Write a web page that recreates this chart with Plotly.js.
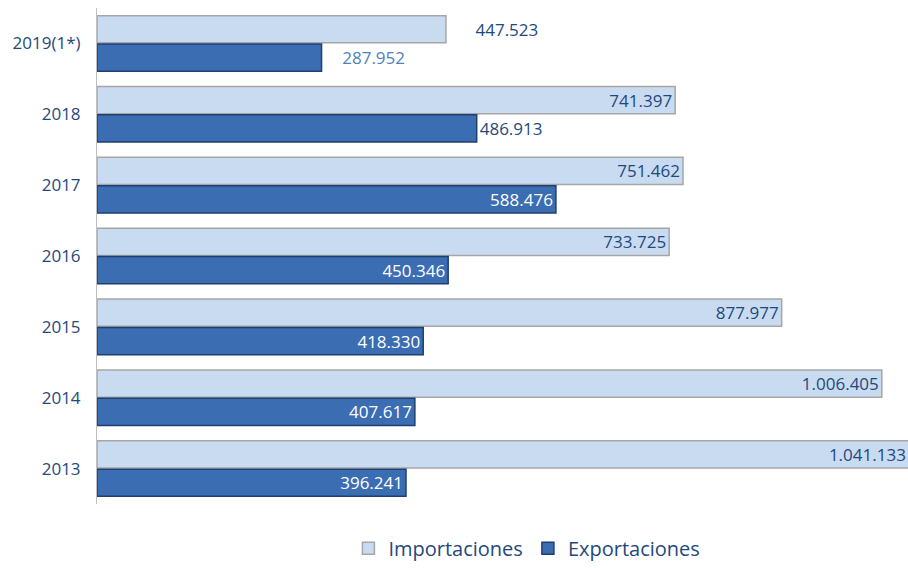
<!DOCTYPE html>
<html><head><meta charset="utf-8">
<script src="https://cdn.plot.ly/plotly-3.0.1.min.js"></script>
<style>html,body{margin:0;padding:0;background:#fff;}#c{width:908px;height:568px;}</style>
</head><body><div id="c"></div>
<script>
const categories = ["2019(1*)", "2018", "2017", "2016", "2015", "2014", "2013"];
const importaciones = [447523, 741397, 751462, 733725, 877977, 1006405, 1041133];
const exportaciones = [287952, 486913, 588476, 450346, 418330, 407617, 396241];

const impPos = ["outside", "inside", "inside", "inside", "inside", "inside", "inside"];
const expPos = ["outside", "outside", "inside", "inside", "inside", "inside", "inside"];
const expColors = ["#4f81bd", "#1f497d", "#ffffff", "#ffffff", "#ffffff", "#ffffff", "#ffffff"];
const sp = "\u00a0";
const impTpl = [sp.repeat(6) + "%{x:,.0f}", "%{x:,.0f}", "%{x:,.0f}", "%{x:,.0f}", "%{x:,.0f}", "%{x:,.0f}", "%{x:,.0f}"];
const expTpl = [sp.repeat(4) + "%{x:,.0f}", "%{x:,.0f}", "%{x:,.0f}", "%{x:,.0f}", "%{x:,.0f}", "%{x:,.0f}", "%{x:,.0f}"];

const font = "Open Sans, Noto Sans, sans-serif";
const traces = [
  {
    type: "bar", orientation: "h", name: "Importaciones",
    y: categories, x: importaciones,
    marker: { color: "#c9dbf0", line: { color: "#a6a6a6", width: 1.5 } },
    texttemplate: impTpl, textposition: impPos, insidetextanchor: "end",
    textfont: { color: "#1f497d", size: 17, family: font },
    outsidetextfont: { color: "#1f497d", size: 17, family: font },
    constraintext: "none",
    cliponaxis: true, hoverinfo: "skip"
  },
  {
    type: "bar", orientation: "h", name: "Exportaciones",
    y: categories, x: exportaciones,
    marker: { color: "#3b6db3", line: { color: "#1f3f6f", width: 1.5 } },
    texttemplate: expTpl, textposition: expPos, insidetextanchor: "end",
    textfont: { color: expColors, size: 17, family: font },
    constraintext: "none",
    cliponaxis: true, hoverinfo: "skip"
  }
];
const layout = {
  width: 908, height: 568,
  margin: { l: 97, r: 0, t: 8, b: 60 },
  paper_bgcolor: "#ffffff", plot_bgcolor: "#ffffff",
  separators: ",.",
  barmode: "group", bargap: 0.2, bargroupgap: 0.04,
  showlegend: true,
  legend: { orientation: "h", x: 0.31, xanchor: "left", y: -0.05, yanchor: "top",
    font: { family: font, size: 20, color: "#1f497d" }, traceorder: "normal",
    itemwidth: 30 },
  xaxis: { range: [0, 1040000], showgrid: false, zeroline: false, showticklabels: false,
    showline: false, ticks: "" },
  yaxis: { type: "category", autorange: "reversed", showgrid: false, zeroline: false, showline: true,
    linecolor: "#bfbfbf", linewidth: 1, ticks: "", ticklen: 0, ticklabelstandoff: 12,
    tickfont: { family: font, size: 17, color: "#1f497d" } },
  font: { family: font }
};
Plotly.newPlot("c", traces, layout, { displayModeBar: false, staticPlot: true });
</script></body></html>
